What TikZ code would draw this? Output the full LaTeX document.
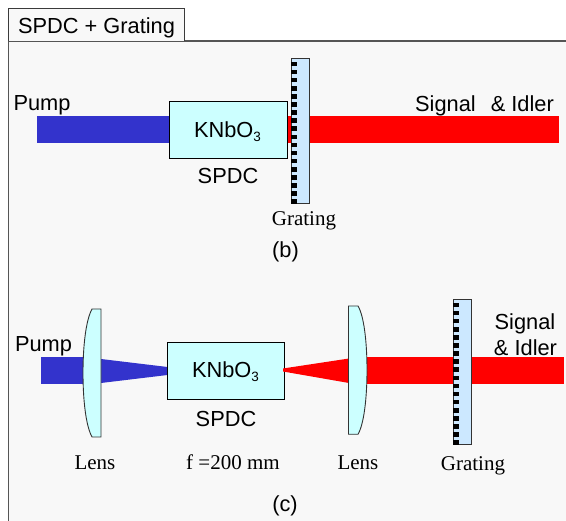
\documentclass[tikz,border=0pt]{standalone}
\usepackage{fontspec}
\setmainfont{Liberation Serif}
\setsansfont{Liberation Sans}
\usetikzlibrary{calc}
\definecolor{panelbg}{HTML}{F8F8F8}
\definecolor{panelline}{HTML}{555555}
\definecolor{pumpblue}{HTML}{3333CC}
\definecolor{crystal}{HTML}{CCFFFF}
\definecolor{gratefill}{HTML}{CCE8FF}
\tikzset{
  lab/.style={font=\fontsize{21.8}{24}\selectfont\sffamily,anchor=base,inner sep=0pt,text=black},
  serif/.style={font=\fontsize{21}{24}\selectfont\rmfamily,anchor=base,inner sep=0pt,text=black},
  crystalbox/.style={draw=black,line width=1pt,fill=crystal},
  lensshape/.style={draw=black!80,line width=0.9pt,fill=crystal},
  gratebox/.style={draw=black!80,line width=1pt,fill=gratefill},
  tooth/.style={fill=black,draw=none},
  pumpbeam/.style={fill=pumpblue,draw=none},
  redbeam/.style={fill=red,draw=none},
}
\newcommand{\subthree}{\raisebox{-4pt}{\fontsize{13.5}{14}\selectfont 3}}
\newcommand{\gratingbar}[3]{% x left, y top, y bottom
  \draw[gratebox] (#1,#2) rectangle (#1+18.5,#3);
  \pgfmathsetmacro{\yfirst}{#2+3.2}
  \pgfmathsetmacro{\ysecond}{#2+3.2+8.1}
  \foreach \ty in {\yfirst,\ysecond,...,#3}{
    \fill[tooth] (#1,\ty) rectangle (#1+5.5,\ty+4.6);
  }
}
\begin{document}
\begin{tikzpicture}[x=1pt,y=-1pt]
\useasboundingbox (0,0) rectangle (566,521);
\fill[white] (0,0) rectangle (566,521);
% panel and tab
\fill[panelbg] (8.5,41) rectangle (566,521);
\draw[panelline,line width=1.2pt] (8.5,521) -- (8.5,41) -- (566,41);
\draw[panelline!70!black,line width=1pt,fill=panelbg] (8.5,41) -- (8.5,8.5) -- (184.5,8.5) -- (184.5,41);
\node[lab] (title) at (96.5,33.7) {SPDC + Grating};
% panel b
\fill[pumpbeam] (37,116.5) rectangle (170,143.5);
\fill[redbeam] (286,116.5) rectangle (559,143.5);
\node[crystalbox,minimum width=118pt,minimum height=57pt,inner sep=0pt] (kb) at (228,130.5) {};
\gratingbar{291}{58.5}{204}
\node[lab] (pumpb) at (42,111) {Pump};
\node[lab] (knb) at (227.5,138) {KNbO\subthree};
\node[lab] (spdcb) at (228,183.7) {SPDC};
\node[serif] (gb) at (304,226) {Grating};
\node[lab] (sib) at (484.5,112) {Signal\hspace{15pt}\& Idler};
\node[lab] (capb) at (285.5,258) {(b)};
% panel c
\fill[pumpbeam] (41,357.5) rectangle (84,384.5);
\fill[pumpbeam] (101,359) -- (167.5,367) -- (167.5,375) -- (101,383) -- cycle;
\draw[lensshape] (101,309) -- (92,309) .. controls (86,320) and (83,345) .. (83,373) .. controls (83,401) and (86,426) .. (92,437) -- (101,437) -- cycle;
\node[crystalbox,minimum width=117pt,minimum height=56.5pt,inner sep=0pt] (kc) at (225.5,371) {};
\fill[redbeam] (283,368.5) -- (349,358.5) -- (349,383) -- (283,371.5) -- cycle;
\fill[redbeam] (366,357.5) rectangle (563.5,384.5);
\draw[lensshape] (348.5,306) -- (358,306) .. controls (364,316) and (367,342) .. (367,370) .. controls (367,398) and (364,424) .. (358,434.3) -- (348.5,434.3) -- cycle;
\gratingbar{453}{299.5}{444.3}
\node[lab] (pumpc) at (43.5,352) {Pump};
\node[lab] (knc) at (225.5,378) {KNbO\subthree};
\node[lab] (spdcc) at (226,426.7) {SPDC};
\node[serif] (lensa) at (95,469.3) {Lens};
\node[serif] (focal) at (233,469.3) {f =200 mm};
\node[serif] (lensb) at (358,469.3) {Lens};
\node[serif] (gc) at (473,471) {Grating};
\node[lab] (sic) at (525,330) {Signal};
\node[lab] (idc) at (525.5,355.7) {\& Idler};
\node[lab] (capc) at (285,512) {(c)};
\end{tikzpicture}
\end{document}
